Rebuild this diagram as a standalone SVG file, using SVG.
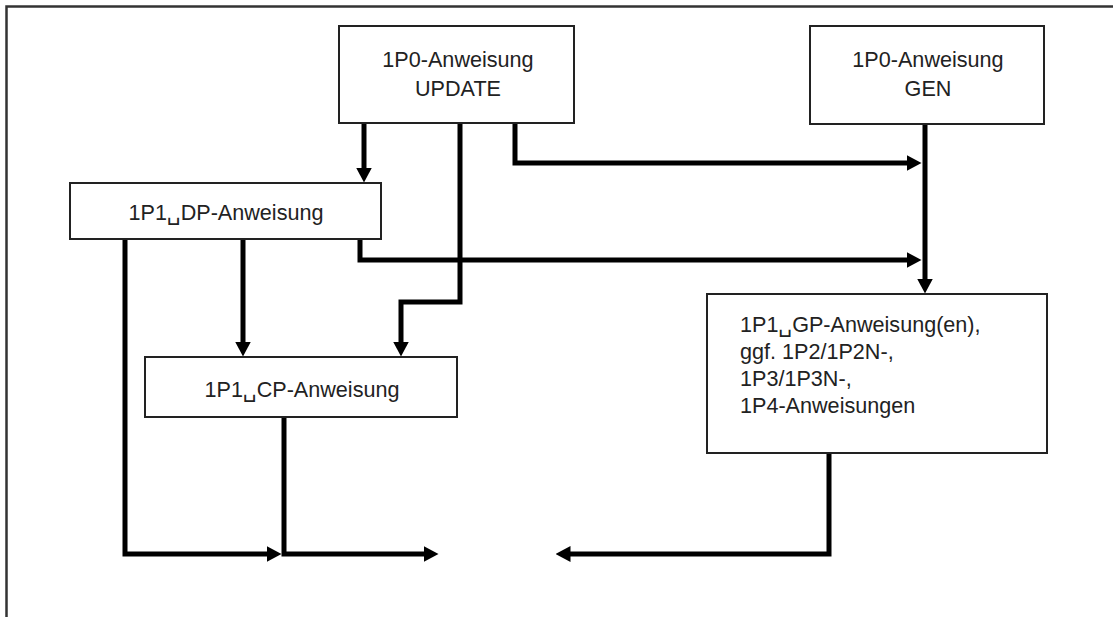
<svg xmlns="http://www.w3.org/2000/svg" width="1113" height="617" viewBox="0 0 1113 617">
  <style>
    .box { fill: #ffffff; stroke: #222222; stroke-width: 2; }
    .frame { fill: none; stroke: #333333; stroke-width: 2.5; }
    .lbl { font-family: "Liberation Sans", Arial, "DejaVu Sans", sans-serif; font-size: 21.6px; fill: #222222; }
    .mid { text-anchor: middle; }
    .conn { fill: none; stroke: #000000; stroke-width: 5; stroke-linejoin: miter; }
  </style>
  <defs>
    <marker id="arr" viewBox="0 0 15 16" refX="0.5" refY="8" markerWidth="15" markerHeight="16" markerUnits="userSpaceOnUse" orient="auto">
      <path d="M0,0 L15,8 L0,16 z" fill="#000000"/>
    </marker>
  </defs>
  <rect x="0" y="0" width="1113" height="617" fill="#ffffff"/>
  <path class="frame" d="M6.5,617 V6.5 H1113"/>

  <g id="connectors">
    <path class="conn" d="M364,123 V168" marker-end="url(#arr)"/>
    <path class="conn" d="M460,123 V302 H401 V342" marker-end="url(#arr)"/>
    <path class="conn" d="M515,123 V163 H907" marker-end="url(#arr)"/>
    <path class="conn" d="M925,124 V279" marker-end="url(#arr)"/>
    <path class="conn" d="M360,239 V260 H907" marker-end="url(#arr)"/>
    <path class="conn" d="M243,239 V342" marker-end="url(#arr)"/>
    <path class="conn" d="M125,239 V554 H267" marker-end="url(#arr)"/>
    <path class="conn" d="M284,417 V554 H424" marker-end="url(#arr)"/>
    <path class="conn" d="M829,453 V554 H570" marker-end="url(#arr)"/>
  </g>

  <g id="node-update">
    <rect class="box" x="339" y="26" width="235" height="97"/>
    <text class="lbl mid" x="458" y="67">1P0-Anweisung</text>
    <text class="lbl mid" x="458" y="96">UPDATE</text>
  </g>
  <g id="node-gen">
    <rect class="box" x="810" y="26" width="234" height="98"/>
    <text class="lbl mid" x="928" y="67">1P0-Anweisung</text>
    <text class="lbl mid" x="928" y="96">GEN</text>
  </g>
  <g id="node-dp">
    <rect class="box" x="70" y="183" width="311" height="56"/>
    <text class="lbl mid" x="226" y="220">1P1␣DP-Anweisung</text>
  </g>
  <g id="node-cp">
    <rect class="box" x="145" y="357" width="312" height="60"/>
    <text class="lbl mid" x="302" y="397">1P1␣CP-Anweisung</text>
  </g>
  <g id="node-gp">
    <rect class="box" x="707" y="294" width="340" height="159"/>
    <text class="lbl" x="740" y="332">1P1␣GP-Anweisung(en),</text>
    <text class="lbl" x="740" y="359">ggf. 1P2/1P2N-,</text>
    <text class="lbl" x="740" y="386">1P3/1P3N-,</text>
    <text class="lbl" x="740" y="413">1P4-Anweisungen</text>
  </g>
</svg>
